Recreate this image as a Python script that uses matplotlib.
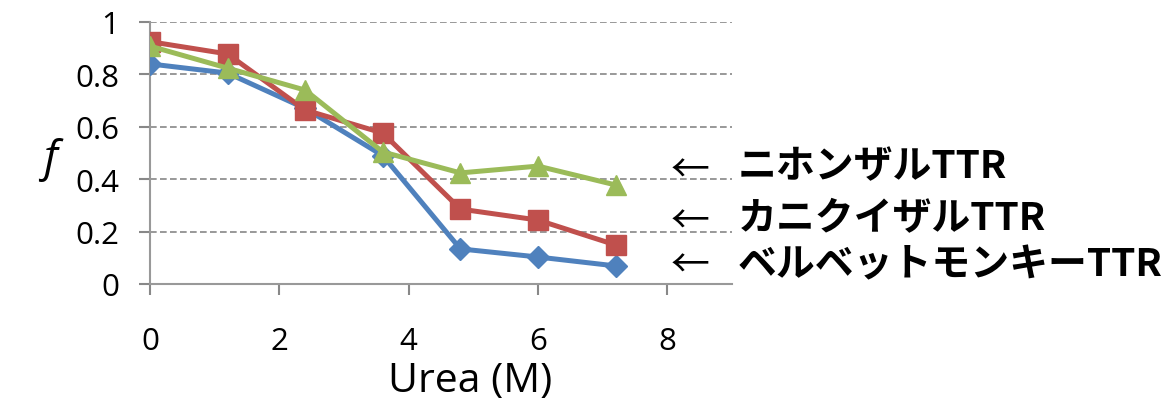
import matplotlib.pyplot as plt

plt.rcParams['font.family'] = ['Open Sans', 'Noto Sans CJK JP', 'DejaVu Sans']

urea = [0, 1.2, 2.4, 3.6, 4.8, 6.0, 7.2]
vervet = [0.84, 0.805, 0.67, 0.49, 0.134, 0.103, 0.069]
cynomolgus = [0.925, 0.878, 0.664, 0.576, 0.286, 0.244, 0.149]
japanese = [0.908, 0.824, 0.740, 0.504, 0.424, 0.450, 0.378]

labels = ['ニホンザルTTR', 'カニクイザルTTR', 'ベルベットモンキーTTR']

fig = plt.figure(figsize=(11.76, 4.02), dpi=100)
ax = fig.add_axes([150 / 1176, 117 / 402, 582 / 1176, 262 / 402])

ax.plot(urea, vervet, color='#4F81BD', lw=3.6, marker='D', ms=11, zorder=3)
ax.plot(urea, cynomolgus, color='#C0504D', lw=3.6, marker='s', ms=14, zorder=4)
ax.plot(urea, japanese, color='#9BBB59', lw=3.6, marker='^', ms=15, zorder=5)

ax.set_xlim(0, 9)
ax.set_ylim(0, 1)
ax.set_xticks([0, 2, 4, 6, 8])
ax.set_yticks([0, 0.2, 0.4, 0.6, 0.8, 1])
ax.set_yticklabels(['0', '0.2', '0.4', '0.6', '0.8', '1'])
ax.tick_params(labelsize=22.5, color='#888888', length=8, width=1.5)
ax.tick_params(axis='y', pad=14)
ax.tick_params(axis='x', pad=22)
for y in [0.2, 0.4, 0.6, 0.8, 1.0]:
    ax.axhline(y, color='#888888', lw=1.2, ls=(0, (4, 2)), zorder=1)

for s in ['top', 'right']:
    ax.spines[s].set_visible(False)
for s in ['left', 'bottom']:
    ax.spines[s].set_color('#999999')
    ax.spines[s].set_linewidth(1.5)

ax.set_xlabel('Urea (M)', fontsize=29.5)
ax.xaxis.set_label_coords(0.55, -0.41)
ax.xaxis.label.set_va('baseline')
fig.text(50 / 1176, 1 - 160 / 402, 'f', fontsize=32, style='italic',
         ha='center', va='center')

ys = [167, 219, 265]
arrow_ys = [172, 223, 267]
for y, ay, lab in zip(ys, arrow_ys, labels):
    fig.text(690 / 1176, 1 - ay / 402, '←', fontsize=28,
             ha='center', va='center', family=['Noto Sans CJK JP', 'DejaVu Sans'])
    fig.text(738 / 1176, 1 - y / 402, lab, fontsize=28, fontweight='bold',
             ha='left', va='center', family=['Noto Sans CJK JP', 'DejaVu Sans'])

plt.savefig('out.png', dpi=100)
plt.close()
